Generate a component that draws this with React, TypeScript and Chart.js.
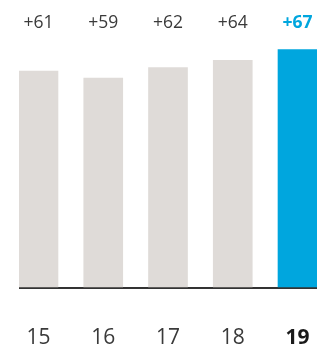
import React, { useEffect, useRef } from "react";
import { Chart, registerables } from "chart.js";

Chart.register(...registerables);

const years = [15, 16, 17, 18, 19];
const yearLabels = ["15", "16", "17", "18", "19"];
const values = [61, 59, 62, 64, 67];
const valueLabels = ["+61", "+59", "+62", "+64", "+67"];

const GREY = "#dfdbd8";
const BLUE = "#00a6de";
const TEXT = "#3a3a3a";
const FONT = "'Open Sans', 'Noto Sans', sans-serif";

export default function App() {
  const ref = useRef<HTMLCanvasElement | null>(null);

  useEffect(() => {
    document.body.style.margin = "0";
    const canvas = ref.current;
    if (!canvas) return;
    const last = years.length - 1;
    const setTicks = (scale: any) => {
      scale.ticks = years.map((v) => ({ value: v }));
    };
    const fitTo = (h: number) => (scale: any) => {
      scale.paddingLeft = 0;
      scale.paddingRight = 0;
      scale.height = h;
    };
    const chart = new Chart(canvas, {
      type: "bar",
      data: {
        datasets: [
          {
            data: years.map((x, i) => ({ x, y: values[i] })),
            backgroundColor: values.map((_, i) => (i === last ? BLUE : GREY)),
            barThickness: 39,
            borderWidth: 0,
          },
        ],
      },
      options: {
        animation: false,
        responsive: false,
        maintainAspectRatio: false,
        layout: { padding: { top: 0, bottom: 0, left: 19, right: 6 } },
        plugins: { legend: { display: false }, tooltip: { enabled: false } },
        scales: {
          x: {
            type: "linear",
            position: "bottom",
            offset: false,
            min: 14.699,
            max: 19.301,
            afterBuildTicks: setTicks,
            afterFit: fitTo(58),
            grid: { display: false, drawTicks: false, offset: false },
            border: { display: false },
            ticks: {
              padding: 40,
              autoSkip: false,
              maxRotation: 0,
              color: (c: any) => (c.index === last ? "#1a1a1a" : TEXT),
              font: (c: any) => ({
                family: FONT,
                size: 21,
                weight: c.index === last ? "bold" : "normal",
                lineHeight: 1,
              }),
              callback: (v: any) => yearLabels[years.indexOf(Number(v))] ?? "",
            },
          },
          xTop: {
            type: "linear",
            position: "top",
            offset: false,
            min: 14.699,
            max: 19.301,
            afterBuildTicks: setTicks,
            afterFit: fitTo(39),
            grid: { display: false, drawTicks: false, offset: false },
            border: { display: false },
            ticks: {
              padding: 7,
              autoSkip: false,
              maxRotation: 0,
              color: (c: any) => (c.index === last ? BLUE : TEXT),
              font: (c: any) => ({
                family: FONT,
                size: 17.5,
                weight: c.index === last ? "bold" : "normal",
                lineHeight: 1,
              }),
              callback: (v: any) => valueLabels[years.indexOf(Number(v))] ?? "",
            },
          },
          y: {
            min: 0,
            max: 70,
            display: true,
            z: 1,
            afterBuildTicks: (scale: any) => {
              scale.ticks = [{ value: 0 }];
            },
            afterFit: (scale: any) => {
              scale.width = 0;
            },
            border: { display: false },
            grid: {
              display: true,
              drawTicks: false,
              color: "#333333",
              lineWidth: 2,
            },
            ticks: { display: false },
          },
        },
      },
    } as any);
    return () => chart.destroy();
  }, []);

  return (
    <div style={{ width: 323, height: 346, background: "#fff" }}>
      <canvas ref={ref} width={323} height={346} style={{ display: "block" }} />
    </div>
  );
}
